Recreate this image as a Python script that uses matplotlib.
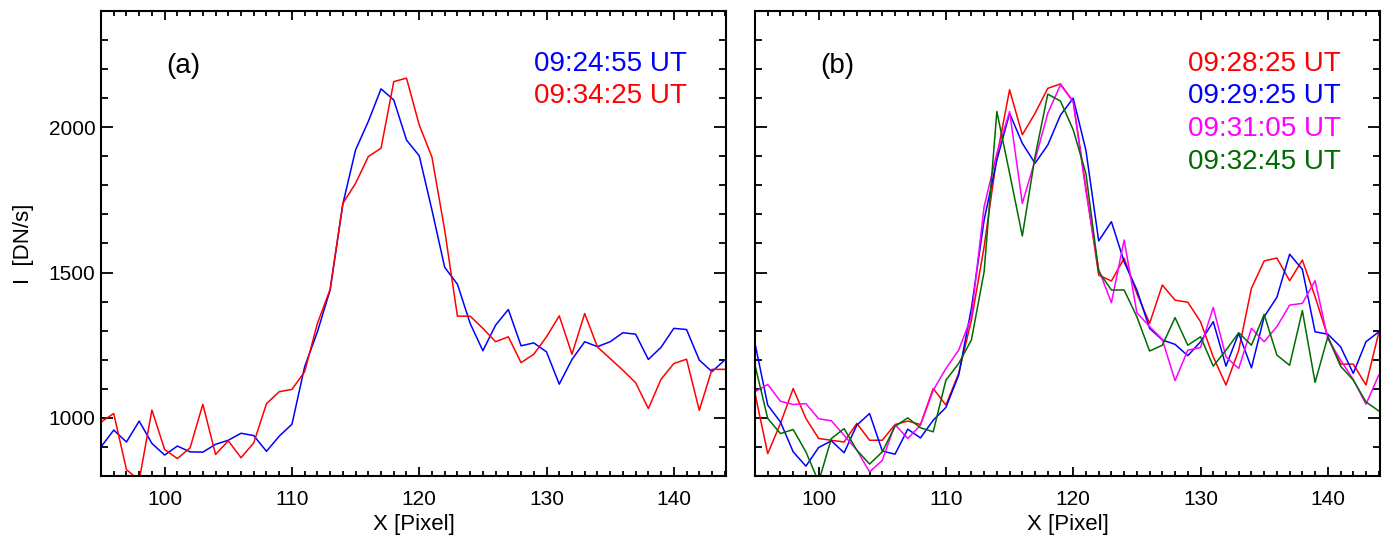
import numpy as np
import matplotlib
matplotlib.use("Agg")
import matplotlib.pyplot as plt
from matplotlib.ticker import MultipleLocator

plt.rcParams['font.family'] = ['Liberation Sans', 'DejaVu Sans']

# slit position along the cut
pix = np.arange(95, 145)

# panel (a): two times
a_0924 = [900, 958, 917, 989, 912, 872, 903, 883, 882, 909,
          923, 947, 939, 885, 937, 978, 1176, 1296, 1440, 1736,
          1922, 2020, 2132, 2094, 1956, 1902, 1715, 1518, 1460, 1325,
          1231, 1319, 1373, 1248, 1258, 1227, 1116, 1201, 1262, 1245,
          1262, 1293, 1288, 1201, 1243, 1308, 1304, 1199, 1159, 1199]
a_0934 = [986, 1015, 822, 785, 1027, 891, 860, 897, 1047, 874,
          921, 863, 914, 1049, 1090, 1098, 1159, 1325, 1442, 1738,
          1807, 1899, 1928, 2157, 2169, 2008, 1897, 1646, 1350, 1350,
          1308, 1262, 1279, 1190, 1219, 1279, 1351, 1219, 1359, 1244,
          1204, 1164, 1121, 1032, 1133, 1187, 1202, 1026, 1167, 1167]

# panel (b): four times
b_0928 = [1084, 877, 981, 1101, 998, 929, 923, 917, 981, 923,
          923, 977, 989, 977, 1101, 1044, 1153, 1336, 1589, 1899,
          2129, 1974, 2048, 2134, 2149, 2088, 1790, 1491, 1471, 1549,
          1428, 1325, 1457, 1405, 1398, 1331, 1210, 1113, 1233, 1446,
          1540, 1550, 1472, 1543, 1417, 1279, 1185, 1185, 1113, 1293]
b_0929 = [1256, 1044, 986, 883, 834, 898, 921, 880, 975, 1015,
          886, 875, 961, 931, 992, 1036, 1147, 1377, 1681, 1887,
          2048, 1945, 1876, 1939, 2042, 2100, 1920, 1609, 1675, 1537,
          1440, 1308, 1268, 1253, 1214, 1262, 1331, 1178, 1291, 1172,
          1348, 1415, 1563, 1511, 1296, 1288, 1245, 1153, 1262, 1296]
b_0931 = [1090, 1115, 1057, 1046, 1049, 997, 990, 940, 889, 814,
          854, 977, 929, 975, 1095, 1170, 1233, 1348, 1727, 1910,
          2054, 1738, 1887, 2048, 2146, 2088, 1780, 1511, 1396, 1612,
          1362, 1314, 1270, 1128, 1233, 1242, 1380, 1210, 1170, 1308,
          1262, 1314, 1388, 1394, 1472, 1273, 1199, 1132, 1047, 1147]
b_0932 = [1181, 998, 946, 960, 883, 780, 929, 963, 889, 841,
          883, 971, 1000, 966, 952, 1130, 1187, 1268, 1503, 2054,
          1842, 1626, 1899, 2114, 2090, 1991, 1840, 1503, 1440, 1440,
          1348, 1230, 1250, 1345, 1250, 1279, 1178, 1233, 1293, 1250,
          1356, 1216, 1181, 1369, 1122, 1279, 1178, 1130, 1055, 1024]

green = '#006b00'
panel_a = [(a_0924, 'blue', '09:24:55 UT'), (a_0934, 'red', '09:34:25 UT')]
panel_b = [(b_0928, 'red', '09:28:25 UT'), (b_0929, 'blue', '09:29:25 UT'),
           (b_0931, 'magenta', '09:31:05 UT'), (b_0932, green, '09:32:45 UT')]

fig = plt.figure(figsize=(13.89, 5.37), dpi=100)
ax_a = fig.add_axes([101 / 1389, 61 / 537, 625 / 1389, 465 / 537])
ax_b = fig.add_axes([755 / 1389, 61 / 537, 625 / 1389, 465 / 537])


def style(ax, tag, series, ylabels):
    for vals, col, lab in series:
        ax.plot(pix, vals, color=col, lw=1.1)
    ax.set_xlim(95, 144.1)
    ax.set_ylim(800, 2400)
    ax.xaxis.set_major_locator(MultipleLocator(10))
    ax.xaxis.set_minor_locator(MultipleLocator(1))
    ax.yaxis.set_major_locator(MultipleLocator(500))
    ax.yaxis.set_minor_locator(MultipleLocator(100))
    for s in ax.spines.values():
        s.set_linewidth(1.5)
    ax.tick_params(which='both', direction='in', top=True, right=True,
                   width=1.3, labelsize=15)
    ax.tick_params(axis='x', which='major', length=6.5, pad=10)
    ax.tick_params(axis='x', which='minor', length=3.4)
    ax.tick_params(axis='y', which='major', length=8.6, pad=4)
    ax.tick_params(axis='y', which='minor', length=4.8)
    if not ylabels:
        ax.tick_params(axis='y', labelleft=False)
    ax.set_xlabel('X [Pixel]', fontsize=16, labelpad=4)
    ax.text(0.104, 0.882, tag, transform=ax.transAxes, fontsize=20,
            ha='left', va='center')
    for i, (vals, col, lab) in enumerate(series):
        ax.text(0.693, 0.887 - i * 0.0705, lab, transform=ax.transAxes,
                color=col, fontsize=20, ha='left', va='center')


style(ax_a, '(a)', panel_a, True)
style(ax_b, '(b)', panel_b, False)
ax_a.set_ylabel('I  [DN/s]', fontsize=16)
ax_a.yaxis.set_label_coords(-0.107, 0.5)

fig.savefig('out.png', dpi=100)
